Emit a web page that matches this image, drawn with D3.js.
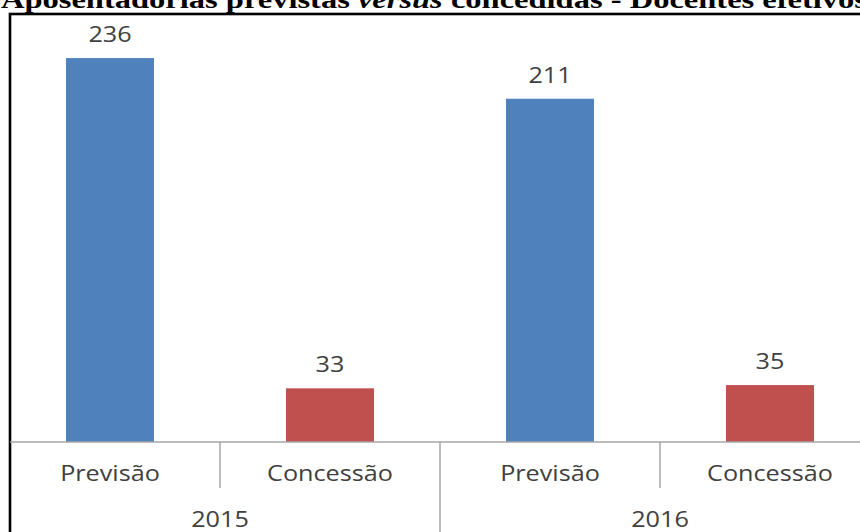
<!DOCTYPE html>
<html><head><meta charset="utf-8">
<script src="https://cdn.jsdelivr.net/npm/d3@7"></script>
<style>html,body{margin:0;padding:0;background:#fff;overflow:hidden}</style>
</head><body>
<svg id="c" width="860" height="532"></svg>
<script>
const years = ["2015", "2016"];
const categories = ["Previsão", "Concessão"];
const values2015 = [236, 33];
const values2016 = [211, 35];
const colors = ["#4F81BD", "#C0504D"];
const titleMain = "Aposentadorias previstas ";
const titleItalic = "versus";
const titleEnd = " concedidas - Docentes efetivos";

const rows = [];
years.forEach((yr, yi) => {
  const vals = yi === 0 ? values2015 : values2016;
  categories.forEach((c, ci) => rows.push({key: yr + "|" + c, year: yr, cat: c, ci, value: vals[ci]}));
});

const svg = d3.select("#c");
const x = d3.scaleBand().domain(rows.map(d => d.key)).range([0, 880]).paddingInner(0.6).paddingOuter(0.3);
const xYear = d3.scaleBand().domain(years).range([0, 880]);
const y = d3.scaleLinear().domain([0, 250]).range([442, 35.3]);
const step = x.step();
const sx = 1.2;

// title
const t = svg.append("text").attr("x", 1).attr("y", 8)
  .attr("font-family", "Liberation Serif").attr("font-weight", "bold").attr("font-size", 26)
  .attr("fill", "#000").attr("textLength", 866).attr("lengthAdjust", "spacingAndGlyphs");
t.append("tspan").text(titleMain);
t.append("tspan").attr("font-style", "italic").text(titleItalic);
t.append("tspan").text(titleEnd);

// frame
svg.append("rect").attr("x", 10).attr("y", 14).attr("width", 900).attr("height", 600)
  .attr("fill", "none").attr("stroke", "#000").attr("stroke-width", 2.6);

// bars
svg.selectAll("rect.bar").data(rows).join("rect").attr("class", "bar")
  .attr("x", d => x(d.key)).attr("width", x.bandwidth())
  .attr("y", d => y(d.value)).attr("height", d => y(0) - y(d.value))
  .attr("fill", d => colors[d.ci]);

// value labels
svg.selectAll("text.val").data(rows).join("text").attr("class", "val")
  .attr("transform", d => `translate(${x(d.key) + x.bandwidth() / 2},${y(d.value) - 16}) scale(${sx},1)`)
  .attr("text-anchor", "middle").attr("font-family", "Open Sans").attr("font-size", 21)
  .attr("fill", "#404040").text(d => d.value);

// axis line
svg.append("line").attr("x1", 10).attr("x2", 880).attr("y1", y(0)).attr("y2", y(0))
  .attr("stroke", "#a6a6a6").attr("stroke-width", 1.5);

// separators
rows.slice(0, -1).forEach((d, i) => {
  const xs = x(d.key) + x.bandwidth() / 2 + step / 2;
  const isYear = rows[i + 1].year !== d.year;
  svg.append("line").attr("x1", xs).attr("x2", xs).attr("y1", y(0)).attr("y2", isYear ? 540 : 488)
    .attr("stroke", "#a6a6a6").attr("stroke-width", 1.5);
});

// category labels
svg.selectAll("text.cat").data(rows).join("text").attr("class", "cat")
  .attr("transform", d => `translate(${x(d.key) + x.bandwidth() / 2},481) scale(${sx},1)`)
  .attr("text-anchor", "middle").attr("font-family", "Open Sans").attr("font-size", 21)
  .attr("fill", "#404040").text(d => d.cat);

// year labels
svg.selectAll("text.yr").data(years).join("text").attr("class", "yr")
  .attr("transform", d => `translate(${xYear(d) + xYear.bandwidth() / 2},527) scale(${sx},1)`)
  .attr("text-anchor", "middle").attr("font-family", "Open Sans").attr("font-size", 21)
  .attr("fill", "#404040").text(d => d);
</script>
</body></html>
